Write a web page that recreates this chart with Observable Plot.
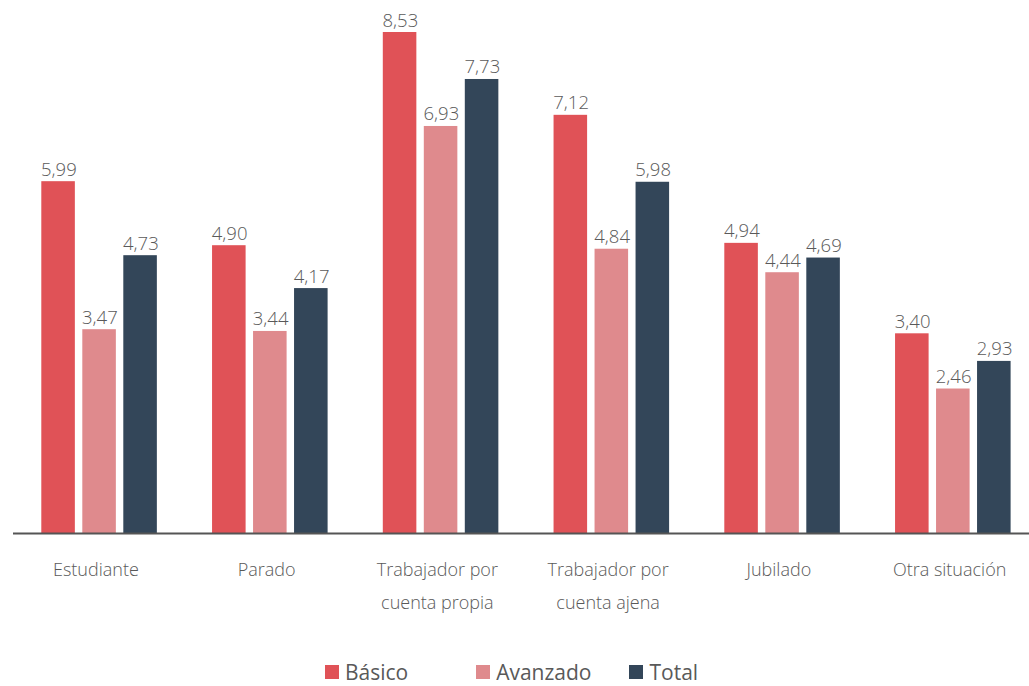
<!DOCTYPE html>
<html>
<head>
<meta charset="utf-8">
<script src="https://cdn.jsdelivr.net/npm/d3@7"></script>
<script src="https://cdn.jsdelivr.net/npm/@observablehq/plot@0.6"></script>
<style>
  html, body { margin: 0; padding: 0; background: #fff; }
  #chart { width: 1029px; }
  .legend { display: flex; justify-content: center; align-items: center; height: 46px; margin-top: 9px; padding-right: 6px;
            font-family: "Open Sans", "Noto Sans", sans-serif; font-size: 21px; color: #595959; }
  .legend .item { display: flex; align-items: center; }
  .legend .sw { width: 14px; height: 14px; margin-right: 6px; }
</style>
</head>
<body>
<div id="chart"></div>
<script>
const categories = ["Estudiante", "Parado", "Trabajador por\ncuenta propia", "Trabajador por\ncuenta ajena", "Jubilado", "Otra situación"];
const series = ["Básico", "Avanzado", "Total"];
const basico   = [5.99, 4.90, 8.53, 7.12, 4.94, 3.40];
const avanzado = [3.47, 3.44, 6.93, 4.84, 4.44, 2.46];
const total    = [4.73, 4.17, 7.73, 5.98, 4.69, 2.93];
const colors = ["#E05257", "#DF8A8D", "#334659"];

const seriesValues = [basico, avanzado, total];
const fmt = v => d3.format(".2f")(v).replace(".", ",");
const font = "'Open Sans', 'Noto Sans', sans-serif";
const labelColor = "#595959";

// per-series layout inside each category band (band step ≈ 170.75px)
const insets = [[27.3, 109.9], [68.3, 68.9], [109.3, 27.9]];
const offsets = [-41, 0, 41];

const marks = [];
series.forEach((s, i) => {
  const data = categories.map((c, j) => ({cat: c, value: seriesValues[i][j]}));
  marks.push(Plot.barY(data, {x: "cat", y: "value", fill: colors[i], insetLeft: insets[i][0], insetRight: insets[i][1]}));
  marks.push(Plot.text(data, {x: "cat", y: "value", text: d => fmt(d.value), dx: offsets[i], dy: -6,
    lineAnchor: "bottom", fontSize: 18.5, fontWeight: 300, fill: labelColor, fontFamily: font}));
});
marks.push(Plot.ruleY([0], {stroke: "#555", strokeWidth: 2}));
marks.push(Plot.axisX({tickSize: 0, tickPadding: 19, dx: -4, fontSize: 18, fontWeight: 300, lineHeight: 1.83, fill: labelColor, fontFamily: font, label: null}));

const chart = Plot.plot({
  width: 1029,
  height: 640,
  marginLeft: 13,
  marginRight: 0,
  marginTop: 20,
  marginBottom: 107,
  style: {fontFamily: font, color: labelColor, background: "#fff"},
  x: {domain: categories, range: [14, 1038.5], padding: 0, round: false, axis: null},
  y: {domain: [0, 8.53], range: [533, 32], axis: null},
  marks
});
document.getElementById("chart").appendChild(chart);

const legend = document.createElement("div");
legend.className = "legend";
const gaps = [0, 68, 38];
series.forEach((s, i) => {
  const item = document.createElement("div");
  item.className = "item";
  item.style.marginLeft = gaps[i] + "px";
  item.innerHTML = `<span class="sw" style="background:${colors[i]}"></span><span>${s}</span>`;
  legend.appendChild(item);
});
document.getElementById("chart").appendChild(legend);
</script>
</body>
</html>
